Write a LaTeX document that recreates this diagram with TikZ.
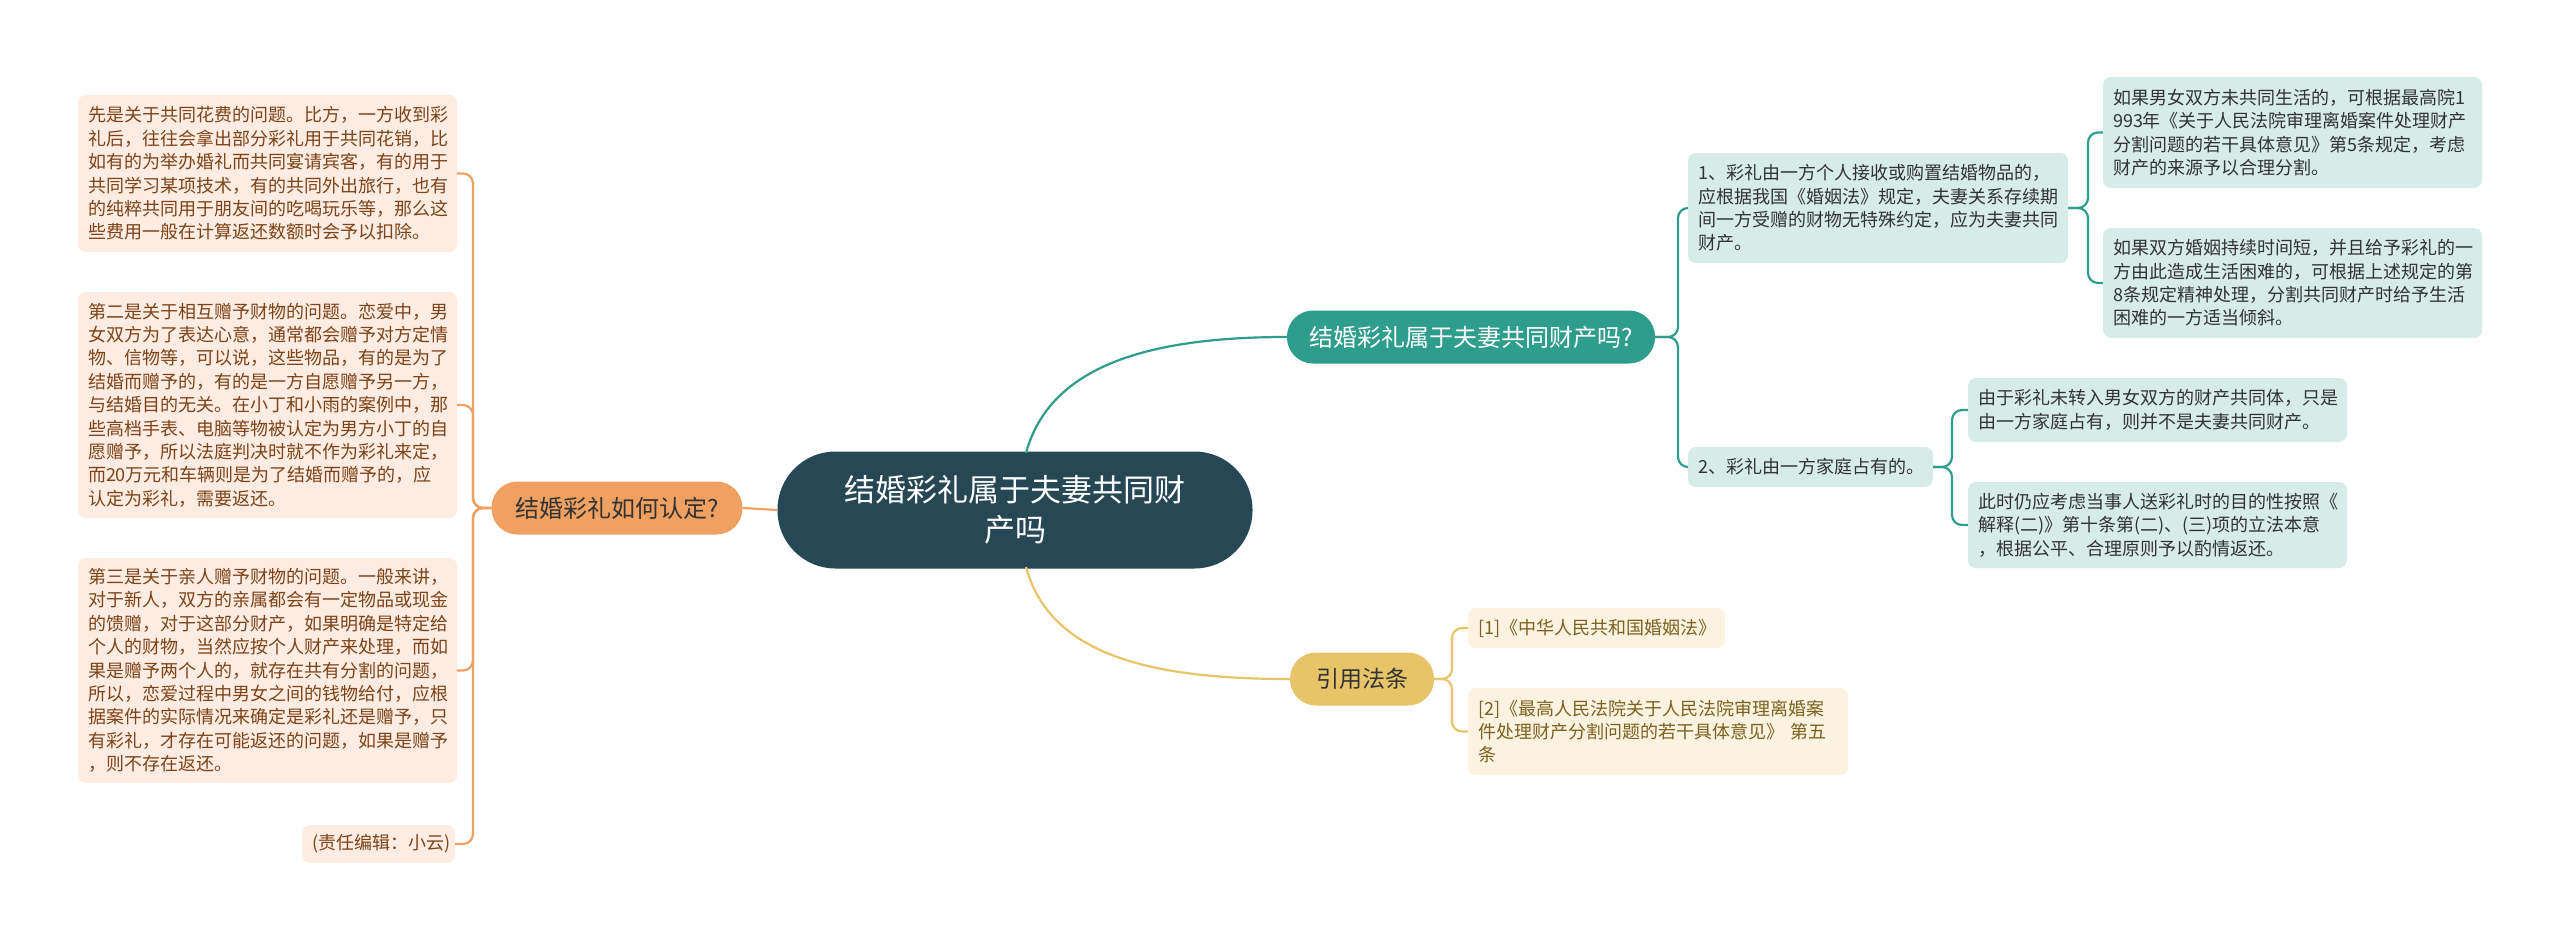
\documentclass[tikz,border=0pt]{standalone}
\usepackage{fontspec}
\setmainfont{Noto Sans CJK SC}
\definecolor{rootc}{HTML}{264855}
\definecolor{tealc}{HTML}{2E9D8C}
\definecolor{tealbg}{HTML}{D7EBE9}
\definecolor{orangec}{HTML}{F0A060}
\definecolor{orangebg}{HTML}{FDECE1}
\definecolor{orangetx}{HTML}{7E4318}
\definecolor{yellowc}{HTML}{E8C468}
\definecolor{yellowbg}{HTML}{FBF2E0}
\definecolor{yellowtx}{HTML}{7D6120}
\definecolor{darktx}{HTML}{333333}
\tikzset{
  leaf/.style={rounded corners=8pt, inner xsep=10pt, inner ysep=4pt, align=left,
    font=\fontsize{18}{23.4}\selectfont},
  tleaf/.style={leaf, fill=tealbg, text=darktx},
  oleaf/.style={leaf, fill=orangebg, text=orangetx},
  yleaf/.style={leaf, fill=yellowbg, text=yellowtx},
  branch/.style={rounded corners=26pt, minimum height=53pt, inner xsep=14pt,
    font=\fontsize{24}{30}\selectfont},
  tline/.style={draw=tealc, line width=2.2pt, rounded corners=10pt},
  oline/.style={draw=orangec, line width=2.2pt, rounded corners=10pt},
  yline/.style={draw=yellowc, line width=2.2pt, rounded corners=10pt},
}
\begin{document}
\begin{tikzpicture}[x=1pt,y=-1pt]
\useasboundingbox[fill=white] (0,0) rectangle (2560,943);

% root
\node[fill=rootc, text=white, rounded corners=58pt, minimum width=475pt, minimum height=117pt,
  align=center, font=\fontsize{31}{39.5}\selectfont] (root) at (1015,510)
  {结婚彩礼属于夫妻共同财\\产吗};

% branches
\node[branch, fill=tealc, text=white, minimum width=368pt] (tb) at (1471,337) {结婚彩礼属于夫妻共同财产吗?};
\node[branch, fill=orangec, text=darktx, minimum width=251pt] (ob) at (617,508) {结婚彩礼如何认定?};
\node[branch, fill=yellowc, text=darktx, minimum width=144pt, font=\fontsize{23}{28}\selectfont] (yb) at (1362,679) {引用法条};

% teal leaves
\node[tleaf, text width=360pt, minimum height=110pt] (t1) at (1878,208)
  {1、彩礼由一方个人接收或购置结婚物品的，\\应根据我国《婚姻法》规定，夫妻关系存续期\\间一方受赠的财物无特殊约定，应为夫妻共同\\财产。};
\node[tleaf, text width=225pt, minimum height=40pt] (t2) at (1810.5,467)
  {2、彩礼由一方家庭占有的。};
\node[tleaf, text width=359pt, minimum height=111pt] (t1a) at (2292.5,132.5)
  {如果男女双方未共同生活的，可根据最高院1\\993年《关于人民法院审理离婚案件处理财产\\分割问题的若干具体意见》第5条规定，考虑\\财产的来源予以合理分割。};
\node[tleaf, text width=359pt, minimum height=110pt] (t1b) at (2292.5,283)
  {如果双方婚姻持续时间短，并且给予彩礼的一\\方由此造成生活困难的，可根据上述规定的第\\8条规定精神处理，分割共同财产时给予生活\\困难的一方适当倾斜。};
\node[tleaf, text width=359pt, minimum height=64pt] (t2a) at (2157.5,410)
  {由于彩礼未转入男女双方的财产共同体，只是\\由一方家庭占有，则并不是夫妻共同财产。};
\node[tleaf, text width=359pt, minimum height=86pt] (t2b) at (2157.5,525)
  {此时仍应考虑当事人送彩礼时的目的性按照《\\解释(二)》第十条第(二)、(三)项的立法本意\\，根据公平、合理原则予以酌情返还。};

% orange leaves
\node[oleaf, text width=359pt, minimum height=157pt] (o1) at (267.5,173.5)
  {先是关于共同花费的问题。比方，一方收到彩\\礼后，往往会拿出部分彩礼用于共同花销，比\\如有的为举办婚礼而共同宴请宾客，有的用于\\共同学习某项技术，有的共同外出旅行，也有\\的纯粹共同用于朋友间的吃喝玩乐等，那么这\\些费用一般在计算返还数额时会予以扣除。};
\node[oleaf, text width=359pt, minimum height=226pt] (o2) at (267.5,405)
  {第二是关于相互赠予财物的问题。恋爱中，男\\女双方为了表达心意，通常都会赠予对方定情\\物、信物等，可以说，这些物品，有的是为了\\结婚而赠予的，有的是一方自愿赠予另一方，\\与结婚目的无关。在小丁和小雨的案例中，那\\些高档手表、电脑等物被认定为男方小丁的自\\愿赠予，所以法庭判决时就不作为彩礼来定，\\而20万元和车辆则是为了结婚而赠予的，应\\认定为彩礼，需要返还。};
\node[oleaf, text width=359pt, minimum height=225pt] (o3) at (267.5,670.5)
  {第三是关于亲人赠予财物的问题。一般来讲，\\对于新人，双方的亲属都会有一定物品或现金\\的馈赠，对于这部分财产，如果明确是特定给\\个人的财物，当然应按个人财产来处理，而如\\果是赠予两个人的，就存在共有分割的问题，\\所以，恋爱过程中男女之间的钱物给付，应根\\据案件的实际情况来确定是彩礼还是赠予，只\\有彩礼，才存在可能返还的问题，如果是赠予\\，则不存在返还。};
\node[oleaf, text width=133pt, minimum height=38pt] (o4) at (378.5,844)
  {(责任编辑：小云)};

% yellow leaves
\node[yleaf, text width=237pt, minimum height=40pt] (y1) at (1596.5,628)
  {[1]《中华人民共和国婚姻法》};
\node[yleaf, text width=360pt, minimum height=87pt] (y2) at (1658,731.5)
  {[2]《最高人民法院关于人民法院审理离婚案\\件处理财产分割问题的若干具体意见》 第五\\条};

% connectors: root to branches
\draw[draw=tealc, line width=2.2pt] (1026,453) .. controls (1050,365) and (1150,337) .. (tb.west);
\draw[draw=yellowc, line width=2.2pt] (1026,567) .. controls (1050,655) and (1150,679) .. (yb.west);
\draw[draw=orangec, line width=2.2pt] (root.west) -- (ob.east);

% teal brackets
\draw[tline] (tb.east) -- (1678,337) -- (1678,208) -- (t1.west);
\draw[tline] (tb.east) -- (1678,337) -- (1678,467) -- (t2.west);
\draw[tline] (t1.east) -- (2088,208) -- (2088,132.5) -- (t1a.west);
\draw[tline] (t1.east) -- (2088,208) -- (2088,283) -- (t1b.west);
\draw[tline] (t2.east) -- (1952,467) -- (1952,410) -- (t2a.west);
\draw[tline] (t2.east) -- (1952,467) -- (1952,525) -- (t2b.west);

% orange brackets
\draw[oline] (ob.west) -- (473,508) -- (473,173.5) -- (o1.east);
\draw[oline] (ob.west) -- (473,508) -- (473,405) -- (o2.east);
\draw[oline] (ob.west) -- (473,508) -- (473,670.5) -- (o3.east);
\draw[oline] (ob.west) -- (473,508) -- (473,844) -- (o4.east);

% yellow brackets
\draw[yline] (yb.east) -- (1452,679) -- (1452,628) -- (y1.west);
\draw[yline] (yb.east) -- (1452,679) -- (1452,731.5) -- (y2.west);
\end{tikzpicture}
\end{document}
